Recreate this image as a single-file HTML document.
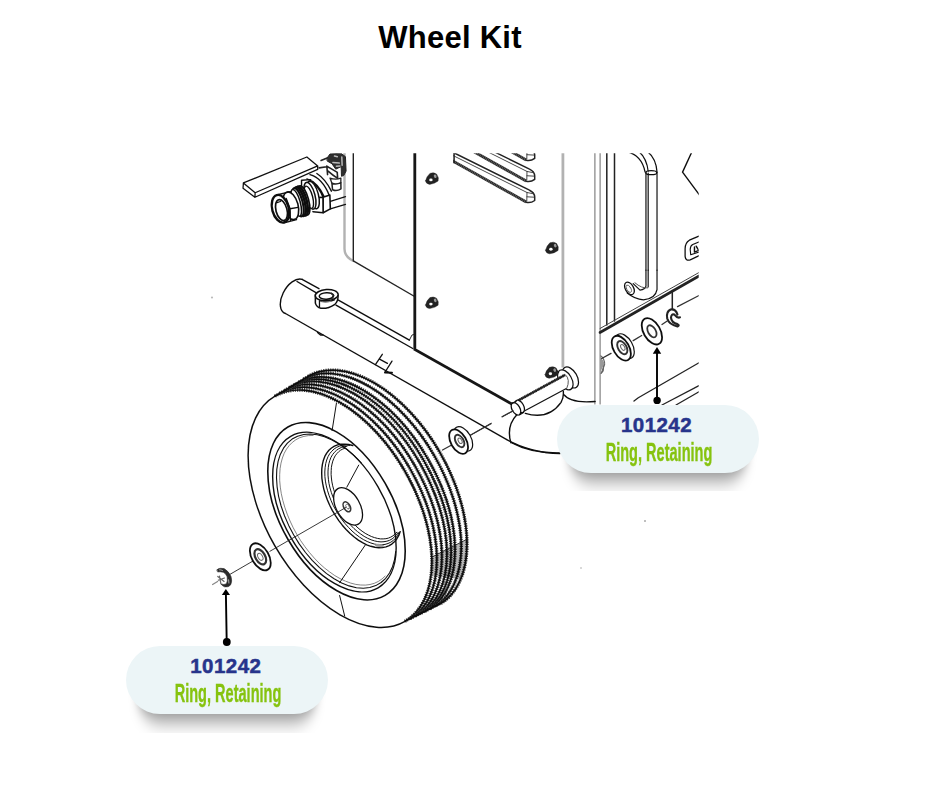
<!DOCTYPE html>
<html lang="en">
<head>
<meta charset="utf-8">
<title>Wheel Kit</title>
<style>
html,body{margin:0;padding:0;background:#fff;}
body{width:940px;height:788px;position:relative;overflow:hidden;font-family:"Liberation Sans",sans-serif;}
h1{position:absolute;left:0;top:17.6px;width:900px;margin:0;text-align:center;font-size:31px;line-height:40px;font-weight:bold;color:#000;letter-spacing:.25px;}
#art{position:absolute;left:0;top:0;width:940px;height:788px;}
.clip{position:absolute;overflow:hidden;width:260px;height:116px;}
.lbl{position:absolute;left:30px;top:30px;width:202px;height:68px;text-align:center;}
.lbl .sh{position:absolute;left:12px;right:12px;top:24px;height:50px;border-radius:25px;background:rgba(0,0,0,.47);filter:url(#shblur);}
.lbl .bg{position:absolute;left:0;top:0;width:202px;height:68px;border-radius:34px;background:#ecf5f7;}
.lbl .num{position:absolute;left:-2.4px;right:0;top:7.8px;font-size:20.5px;line-height:24px;font-weight:bold;color:#27348b;letter-spacing:.45px;-webkit-text-stroke:.5px #27348b;}
.lbl .name{position:absolute;left:-48px;right:-50px;top:32.2px;-webkit-text-stroke:.35px #86c30f;font-size:25px;line-height:30px;color:#86c30f;transform:scaleX(.582);font-weight:bold;white-space:nowrap;}
</style>
</head>
<body>
<h1>Wheel Kit</h1>
<svg id="art" viewBox="0 0 940 788" width="940" height="788" fill="none" stroke="#111" stroke-width="1.3" stroke-linecap="round" stroke-linejoin="round">
<defs>
<clipPath id="dc"><rect x="200" y="153.3" width="498.7" height="500"/></clipPath>
<clipPath id="sc"><rect x="453.2" y="150" width="100" height="70"/></clipPath>
<filter id="soft" x="-5%" y="-5%" width="110%" height="110%"><feGaussianBlur stdDeviation="0.62"/></filter>
<filter id="shblur" x="-30%" y="-100%" width="160%" height="300%"><feGaussianBlur stdDeviation="5 10"/></filter>
</defs>
<g id="drawing" clip-path="url(#dc)"><g filter="url(#soft)">
<path d="M344.5,150 L344.5,249 Q344.8,257 353.3,261" stroke="#b2b2b2" stroke-width="2.4"/><path d="M353.3,150 L353.3,260.8 L414.6,296.5" stroke="#222" stroke-width="1.4"/><path d="M414.8,150 L414.8,349.4 L512.3,404.3" stroke="#151515" stroke-width="2.8" stroke-linejoin="miter"/><path d="M562.9,150 L562.9,367.5" stroke="#b2b2b2" stroke-width="2.8" stroke-linecap="butt"/><path d="M594.9,150 L594.9,404 M600.1,150 L600.1,404" stroke="#777" stroke-width="1.1"/><path d="M606.8,150 L606.8,325 M614.5,150 L614.5,321" stroke="#222" stroke-width="1.5"/><path d="M600,332.5 L699,276" stroke="#222" stroke-width="2.6"/><path d="M600,328.5 L699,272.5" stroke="#444" stroke-width="1"/><path d="M699,362.8 L638.3,397.7 L634,401 M699,385.7 L662,405 M699,391.7 L676,405" stroke="#222" stroke-width="1.3"/><path d="M672.3,290.5 L672.3,309" stroke="#222" stroke-width="1.5"/><path d="M699,295.5 L677.5,306.6" stroke="#333" stroke-width="1.2"/>
<path d="M302.1,279.3 A19.1,11 -60 0 0 285.5,313.5 L507.2,439.8 C520,447 540,453.5 560,453.5" stroke-width="1.4"/><path d="M302.1,279.3 L319,288.7 M337.5,299.6 L409.4,340.1 M297,281.5 L315.5,292.4 M336,305.2 L412.8,348.5" stroke-width="1.4"/><path d="M409.4,340.1 L412,335 L413.5,334.6" stroke-width=".9"/><path d="M317.5,332.5 L320.5,335 L323,335" stroke-width="1.4"/><path d="M382.3,354.3 L375.4,364.6 M380,359.4 L387.4,363.4 M392,361.1 L385.1,372" stroke-width="1.3"/><path d="M385,372.6 L392,372.8" stroke-width="2"/>
<g transform="translate(305,278) scale(0.04824)" ><path d="M215,350 L215,520 Q240,610 330,628 Q480,640 620,545 Q690,480 686,360 Z" fill="#fff" stroke-width="1.5" vector-effect="non-scaling-stroke"/><ellipse cx="450" cy="355" rx="238" ry="116" transform="rotate(-4 450 355)" fill="#fff" stroke-width="1.5" vector-effect="non-scaling-stroke"/><ellipse cx="445" cy="372" rx="150" ry="68" transform="rotate(-3 445 372)" stroke-width="1.5" vector-effect="non-scaling-stroke"/><path d="M300,470 L300,608 M300,470 Q450,520 610,452" stroke-width="1.3" vector-effect="non-scaling-stroke"/><path d="M350,492 Q450,508 540,482" stroke="#888" stroke-width="1.2" vector-effect="non-scaling-stroke"/><path d="M545,320 L590,360 L560,420" stroke="#222" stroke-width="1.6" vector-effect="non-scaling-stroke"/></g>
<circle cx="212" cy="297.5" r="1.1" fill="#bbb" stroke="none"/><circle cx="645" cy="521" r="1" fill="#aaa" stroke="none"/><circle cx="581" cy="568" r="1" fill="#ccc" stroke="none"/>
<g id="wheel"><ellipse cx="340.0" cy="508.7" rx="130.0" ry="75.0" transform="rotate(60 340.0 508.7)" fill="#fff" stroke="none"/><ellipse cx="374.0" cy="490.2" rx="131.5" ry="75.9" transform="rotate(60 374.0 490.2)" fill="#fff" stroke="none"/><polygon fill="#fff" stroke="none" points="275.0,396.1 308.2,376.3 439.8,604.1 405.0,621.3"/><path d="M275.0,396.1 A130.0,75.0 60 0 1 405.0,621.3" stroke="#3a3a3a" stroke-width="3.4" stroke-dasharray="1.3 1" stroke-linecap="butt"/><path d="M275.0,396.1 A130.0,75.0 60 0 1 405.0,621.3" stroke="#111" stroke-width="1.7"/><path d="M279.7,393.3 A130.2,75.1 60 0 1 410.0,618.8" stroke="#3a3a3a" stroke-width="3.4" stroke-dasharray="1.3 1" stroke-linecap="butt"/><path d="M279.7,393.3 A130.2,75.1 60 0 1 410.0,618.8" stroke="#111" stroke-width="1.7"/><path d="M284.5,390.5 A130.4,75.3 60 0 1 414.9,616.4" stroke="#3a3a3a" stroke-width="3.4" stroke-dasharray="1.3 1" stroke-linecap="butt"/><path d="M284.5,390.5 A130.4,75.3 60 0 1 414.9,616.4" stroke="#111" stroke-width="1.7"/><path d="M289.2,387.6 A130.6,75.4 60 0 1 419.9,613.9" stroke="#3a3a3a" stroke-width="3.4" stroke-dasharray="1.3 1" stroke-linecap="butt"/><path d="M289.2,387.6 A130.6,75.4 60 0 1 419.9,613.9" stroke="#111" stroke-width="1.7"/><path d="M294.0,384.8 A130.9,75.5 60 0 1 424.9,611.5" stroke="#3a3a3a" stroke-width="3.4" stroke-dasharray="1.3 1" stroke-linecap="butt"/><path d="M294.0,384.8 A130.9,75.5 60 0 1 424.9,611.5" stroke="#111" stroke-width="1.7"/><path d="M298.8,382.0 A131.1,75.6 60 0 1 429.8,609.0" stroke="#3a3a3a" stroke-width="3.4" stroke-dasharray="1.3 1" stroke-linecap="butt"/><path d="M298.8,382.0 A131.1,75.6 60 0 1 429.8,609.0" stroke="#111" stroke-width="1.7"/><path d="M303.5,379.1 A131.3,75.8 60 0 1 434.8,606.5" stroke="#3a3a3a" stroke-width="3.4" stroke-dasharray="1.3 1" stroke-linecap="butt"/><path d="M303.5,379.1 A131.3,75.8 60 0 1 434.8,606.5" stroke="#111" stroke-width="1.7"/><path d="M308.2,376.3 A131.5,75.9 60 0 1 439.8,604.1" stroke="#3a3a3a" stroke-width="3.4" stroke-dasharray="1.3 1" stroke-linecap="butt"/><path d="M308.2,376.3 A131.5,75.9 60 0 1 439.8,604.1" stroke="#111" stroke-width="1.7"/><path d="M275.0,396.1 A130.0,75.0 60 0 0 405.0,621.3" stroke-width="1.5"/><line x1="275.0" y1="396.1" x2="308.2" y2="376.3"/><line x1="405.0" y1="621.3" x2="439.8" y2="604.1"/><polygon points="432,557 467.5,539 467,560 460,579 432.5,576" fill="#000" fill-opacity=".28" stroke="none"/><line x1="432" y1="557" x2="467.5" y2="539" stroke-width=".8"/><ellipse cx="336.5" cy="511.2" rx="97.2" ry="56.1" transform="rotate(60 336.5 511.2)" stroke-width="1.6"/><ellipse cx="334.4" cy="512.1" rx="87.4" ry="50.4" transform="rotate(60 334.4 512.1)" stroke-width="1.4"/><polyline points="395.7,551.5 394.6,559.5 392.5,566.7 389.5,573.0 385.7,578.3 381.1,582.5 375.8,585.6 369.8,587.5 363.3,588.2 356.4,587.7 349.1,585.9 341.7,583.0 334.1,578.8 326.6,573.6 319.3,567.4 312.2,560.3 305.5,552.5 299.2,543.9 293.6,534.8 288.7,525.4 284.5,515.7 281.1,506.0 278.6,496.3 277.1,486.8 276.5,477.8 276.8,469.3 278.1,461.4 280.3,454.4 283.5,448.2 287.4,443.1 292.1,439.1 297.6,436.2 303.7,434.5 310.2,434.0 317.2,434.7 324.5,436.7 332.0,439.9 339.6,444.2 347.1,449.6 354.4,455.9 361.4,463.2" stroke-width="1.1"/><polyline points="385.1,576.1 381.9,579.1 378.2,581.5 374.3,583.3 370.0,584.5 365.5,585.1 360.7,585.0 355.8,584.4 350.7,583.1 345.4,581.1 340.1,578.6 334.8,575.6 329.6,571.9 324.3,567.8 319.2,563.2 314.3,558.1 309.5,552.6 305.0,546.8 300.7,540.7 296.8,534.3 293.2,527.7 290.0,520.9 287.2,514.1 284.8,507.3 282.8,500.4 281.3,493.7 280.3,487.1 279.7,480.7 279.7,474.5 280.1,468.6 281.0,463.1 282.4,458.0 284.2,453.3 286.5,449.1 289.3,445.4 292.4,442.3 295.9,439.7 299.7,437.7 303.9,436.4 308.4,435.6 313.1,435.5" stroke-width=".8" stroke="#666"/><polyline points="400.2,531.6 398.8,535.4 396.9,538.7 394.7,541.5 392.1,543.8 389.2,545.6 386.0,546.9 382.5,547.6 378.8,547.7 374.9,547.3 370.8,546.3 366.7,544.8 362.5,542.7 358.3,540.1 354.2,537.0 350.1,533.5 346.1,529.5 342.3,525.2 338.8,520.6 335.5,515.7 332.4,510.6 329.7,505.3 327.4,499.9 325.4,494.5 323.8,489.1 322.7,483.7 321.9,478.5 321.7,473.5 321.8,468.8 322.4,464.3 323.4,460.2 324.8,456.4 326.7,453.1 328.9,450.3 331.5,448.0 334.4,446.2 337.6,444.9 341.1,444.2 344.8,444.1 348.7,444.5 352.8,445.5" stroke-width="1.4"/><polyline points="399.2,532.3 397.6,535.4 395.6,538.1 393.4,540.4 390.8,542.2 388.0,543.5 385.0,544.4 381.7,544.8 378.2,544.7 374.6,544.1 370.9,543.0 367.2,541.5 363.3,539.5 359.5,537.1 355.7,534.2 352.0,531.0 348.5,527.4 345.0,523.5 341.7,519.3 338.7,514.9 335.9,510.3 333.3,505.6 331.1,500.7 329.2,495.8 327.6,490.8 326.3,485.9 325.4,481.1 324.9,476.5 324.8,472.0 325.1,467.7 325.7,463.7 326.7,460.0 328.0,456.7 329.7,453.7 331.8,451.2 334.1,449.0 336.7,447.3 339.6,446.1 342.7,445.4 346.1,445.1 349.6,445.4" stroke-width="1"/><polyline points="398.0,532.5 396.3,535.0 394.3,537.1 392.1,538.9 389.6,540.3 386.9,541.2 384.0,541.7 381.0,541.9 377.8,541.6 374.5,540.9 371.1,539.8 367.7,538.3 364.2,536.4 360.8,534.1 357.4,531.5 354.0,528.6 350.8,525.3 347.6,521.8 344.7,518.1 341.9,514.1 339.3,510.0 336.9,505.7 334.8,501.3 332.9,496.9 331.3,492.4 330.0,488.0 329.0,483.6 328.4,479.3 328.0,475.1 328.0,471.1 328.3,467.3 328.9,463.7 329.8,460.4 331.0,457.3 332.6,454.6 334.4,452.3 336.5,450.3 338.8,448.7 341.3,447.5 344.1,446.7 347.0,446.3" stroke-width="1"/><polyline points="396.7,532.2 394.9,534.2 393.0,535.8 390.8,537.1 388.4,538.1 385.9,538.7 383.2,538.9 380.4,538.9 377.5,538.4 374.5,537.6 371.4,536.5 368.3,535.0 365.2,533.3 362.1,531.2 359.0,528.8 356.0,526.1 353.1,523.2 350.3,520.1 347.6,516.7 345.0,513.2 342.6,509.5 340.4,505.7 338.4,501.8 336.7,497.8 335.1,493.8 333.8,489.8 332.7,485.8 331.9,481.9 331.4,478.0 331.1,474.3 331.2,470.7 331.4,467.3 332.0,464.1 332.8,461.1 333.9,458.3 335.2,455.8 336.8,453.7 338.6,451.8 340.6,450.2 342.8,449.0 345.2,448.1" stroke-width="1"/><ellipse cx="379.5" cy="545.5" rx="4.5" ry="1.6" transform="rotate(5 379.5 545.5)" fill="#999" stroke="none"/><ellipse cx="348.1" cy="506.4" rx="20.5" ry="11.8" transform="rotate(60 348.1 506.4)" fill="#fff" stroke-width="1.3"/><ellipse cx="346.9" cy="506.8" rx="5.4" ry="3.1" transform="rotate(60 346.9 506.8)" stroke-width="1.6" stroke="#333"/><ellipse cx="347.6" cy="506.6" rx="2.6" ry="1.5" transform="rotate(60 347.6 506.6)" stroke-width=".8" stroke="#666"/><path d="M346.8,487.2 L358.7,465.1 M365.1,545.3 L339.6,582.8 M336.4,403.4 L332.1,430.6 M339.6,595.5 L344.7,616" stroke-width="1"/></g>
<path d="M229.7,574.5 L253,561 M269.9,551.3 L346,507.4" stroke-width=".9" stroke="#222"/>
<g transform="translate(236,150) scale(0.12766)" ><path d="M58,258 L555,55 L640,125 L150,335 Z M58,258 L55,300 L148,370 L150,335 M148,370 L640,152 L640,125" fill="#fff" stroke-width="1.3" vector-effect="non-scaling-stroke"/></g>
<g transform="translate(264,172) scale(0.07659)" ><path d="M600,35 Q760,80 850,300 M690,20 Q800,90 880,250 M560,90 Q700,130 790,330 M640,150 Q720,200 770,330" stroke-width="1.4" vector-effect="non-scaling-stroke"/><path d="M866,385 L1064,323 M866,482 L1064,423" stroke-width="1.3" vector-effect="non-scaling-stroke"/><path d="M770,330 L860,300 L866,482 L772,532 Z" fill="#fff" stroke-width="1.6" vector-effect="non-scaling-stroke"/><path d="M640,518 L772,532 L770,330 L700,335" fill="#fff" stroke-width="1.6" vector-effect="non-scaling-stroke"/><ellipse cx="640" cy="300" rx="70" ry="185" transform="rotate(-15 640 300)" fill="#fff" stroke="#111" stroke-width="1.5" vector-effect="non-scaling-stroke"/><ellipse cx="600" cy="310" rx="66" ry="180" transform="rotate(-15 600 310)" fill="#fff" stroke="#111" stroke-width="1.5" vector-effect="non-scaling-stroke"/><path d="M490,108 L490,175 M490,108 L610,100" stroke-width="1.4" vector-effect="non-scaling-stroke"/><ellipse cx="585" cy="330" rx="50" ry="150" transform="rotate(-15 585 330)" fill="#fff" stroke="#111" stroke-width="1.4" vector-effect="non-scaling-stroke"/><ellipse cx="520" cy="370" rx="62" ry="195" transform="rotate(-15 520 370)" fill="#fff" stroke="#111" stroke-width="1.8" vector-effect="non-scaling-stroke"/><ellipse cx="495" cy="378" rx="62" ry="195" transform="rotate(-15 495 378)" fill="#fff" stroke="#111" stroke-width="2.6" vector-effect="non-scaling-stroke"/><ellipse cx="470" cy="386" rx="60" ry="192" transform="rotate(-15 470 386)" fill="#fff" stroke="#111" stroke-width="2.6" vector-effect="non-scaling-stroke"/><ellipse cx="445" cy="394" rx="58" ry="190" transform="rotate(-15 445 394)" fill="#fff" stroke="#111" stroke-width="2.2" vector-effect="non-scaling-stroke"/><ellipse cx="420" cy="402" rx="54" ry="180" transform="rotate(-15 420 402)" fill="#fff" stroke="#111" stroke-width="1.5" vector-effect="non-scaling-stroke"/><path d="M170,300 L340,258 L420,620 L260,662 Z" fill="#fff" stroke="none"/><ellipse cx="350" cy="440" rx="95" ry="185" transform="rotate(-15 350 440)" fill="#fff" stroke="#111" stroke-width="1.6" vector-effect="non-scaling-stroke"/><path d="M165,300 L345,256 M262,664 L425,622 M340,480 L445,462 M340,480 L345,640 M290,345 L340,480" stroke-width="1.4" vector-effect="non-scaling-stroke"/><ellipse cx="215" cy="480" rx="108" ry="185" transform="rotate(-15 215 480)" fill="#fff" stroke="#111" stroke-width="2.4" vector-effect="non-scaling-stroke"/><ellipse cx="228" cy="497" rx="72" ry="140" transform="rotate(-15 228 497)" fill="#fff" stroke="#111" stroke-width="1.7" vector-effect="non-scaling-stroke"/><path d="M170,400 L215,385" stroke-width="1.2" vector-effect="non-scaling-stroke"/></g>
<g transform="translate(300,150) scale(0.06383)" ><path d="M425,125 L470,62 L640,50 L712,105 L722,330 L685,400 L650,412 L645,260 L560,300 L500,215 L430,175 Z" fill="#2e2e2e" stroke="#222" stroke-width="1" vector-effect="non-scaling-stroke"/><path d="M540,95 L585,105 M515,195 L615,205 M570,255 L625,250 M655,110 L660,240" stroke="#bbb" stroke-width="1.5" vector-effect="non-scaling-stroke"/><path d="M420,250 L432,385 M583,350 L590,440 M420,255 L500,300 L585,350 M330,165 L425,125 M300,280 L420,262 M440,330 Q520,400 585,440" stroke="#222" stroke-width="1.6" vector-effect="non-scaling-stroke"/><path d="M500,520 Q565,548 640,512 L642,608 Q575,652 510,622 Z" fill="#fff" stroke="#222" stroke-width="1.5" vector-effect="non-scaling-stroke"/><path d="M470,440 Q560,470 640,440 L640,512 M470,440 L500,520" stroke="#222" stroke-width="1.3" vector-effect="non-scaling-stroke"/></g>
<g transform="translate(470,330) scale(0.17021)" ><path d="M275,498 Q212,565 240,662 M240,660 Q360,725 525,722 M325,490 Q460,530 535,425 Q552,395 548,360 M552,380 Q590,432 735,420" stroke-width="1.4" vector-effect="non-scaling-stroke"/><ellipse cx="590" cy="279" rx="67.5" ry="39" transform="rotate(60 590 279)" fill="#fff" stroke-width="1.2" vector-effect="non-scaling-stroke"/><ellipse cx="560" cy="293" rx="64.6" ry="37.3" transform="rotate(60 560 293)" fill="#fff" stroke-width="1.2" vector-effect="non-scaling-stroke"/><path d="M285,412 L560,262 L572,343 L322,474 Z" fill="#fff" stroke="none"/><path d="M283,414 L558,264" stroke="#222" stroke-width="2.8" stroke-dasharray="1.2 .6" stroke-linecap="butt" vector-effect="non-scaling-stroke"/><path d="M283,414 L558,264" stroke="#222" stroke-width="1.7" stroke-linecap="butt" vector-effect="non-scaling-stroke"/><path d="M322,474 L566,344" stroke-width="1.2" vector-effect="non-scaling-stroke"/><path d="M560,262 Q592,290 568,344" stroke-width="1" stroke="#555" vector-effect="non-scaling-stroke"/><ellipse cx="292" cy="449" rx="40" ry="23" transform="rotate(60 292 449)" fill="#fff" stroke-width="1.3" vector-effect="non-scaling-stroke"/><ellipse cx="270" cy="463" rx="40" ry="23" transform="rotate(60 270 463)" fill="#fff" stroke-width="1.3" vector-effect="non-scaling-stroke"/><path d="M250,430 L272,417 M292,498 L314,485" stroke-width="1.2" vector-effect="non-scaling-stroke"/><path d="M495,225 L520,250" stroke-width="1.3" vector-effect="non-scaling-stroke"/><path d="M190,510 L250,478 M0,620 L125,548" stroke="#333" stroke-width="1" vector-effect="non-scaling-stroke"/><path d="M770,175 Q790,190 782,240 L770,255" stroke="#555" stroke-width="1.2" vector-effect="non-scaling-stroke"/></g>
<g clip-path="url(#sc)"><g transform="translate(0,-42.1)"><path d="M430,141.1 L529.5,190.2 Q534.5,192.5 534.7,197 L534.7,200.5 Q531,203 526.2,202.3 L430,148.2 Z" fill="#fff" stroke="none"/><path d="M430,148.2 L526.2,202" stroke="#222" stroke-width="2.9" stroke-linecap="butt"/><path d="M430,148.2 L526.2,202" stroke="#fff" stroke-opacity=".35" stroke-width="2.9" stroke-dasharray=".7 1.1" stroke-linecap="butt"/><path d="M430,141.1 L529.5,190.2 Q534.5,192.5 534.7,197 L534.7,200.5 Q531,203.2 526.2,202.3" stroke="#222" stroke-width="1.5"/><path d="M430,144 L527,192.5 L533.5,193.8 M527,192.5 L526.8,201 M527,196.8 L534,197.2" stroke="#333" stroke-width=".9"/></g><g transform="translate(0,-21.05)"><path d="M430,141.1 L529.5,190.2 Q534.5,192.5 534.7,197 L534.7,200.5 Q531,203 526.2,202.3 L430,148.2 Z" fill="#fff" stroke="none"/><path d="M430,148.2 L526.2,202" stroke="#222" stroke-width="2.9" stroke-linecap="butt"/><path d="M430,148.2 L526.2,202" stroke="#fff" stroke-opacity=".35" stroke-width="2.9" stroke-dasharray=".7 1.1" stroke-linecap="butt"/><path d="M430,141.1 L529.5,190.2 Q534.5,192.5 534.7,197 L534.7,200.5 Q531,203.2 526.2,202.3" stroke="#222" stroke-width="1.5"/><path d="M430,144 L527,192.5 L533.5,193.8 M527,192.5 L526.8,201 M527,196.8 L534,197.2" stroke="#333" stroke-width=".9"/></g><g transform="translate(0,0)"><path d="M430,141.1 L529.5,190.2 Q534.5,192.5 534.7,197 L534.7,200.5 Q531,203 526.2,202.3 L430,148.2 Z" fill="#fff" stroke="none"/><path d="M430,148.2 L526.2,202" stroke="#222" stroke-width="2.9" stroke-linecap="butt"/><path d="M430,148.2 L526.2,202" stroke="#fff" stroke-opacity=".35" stroke-width="2.9" stroke-dasharray=".7 1.1" stroke-linecap="butt"/><path d="M430,141.1 L529.5,190.2 Q534.5,192.5 534.7,197 L534.7,200.5 Q531,203.2 526.2,202.3" stroke="#222" stroke-width="1.5"/><path d="M430,144 L527,192.5 L533.5,193.8 M527,192.5 L526.8,201 M527,196.8 L534,197.2" stroke="#333" stroke-width=".9"/></g><path d="M454,153 L454,162.6" stroke="#222" stroke-width="1.7"/></g>
<g transform="translate(432.1,178.4)"><path d="M-6.6,2.4 Q-5.6,-2 -2.2,-5 Q1.5,-6.6 4.6,-4.2 Q7,-1 6,2.6 Q3,5.2 -2.4,6 Q-6.2,5.6 -6.6,2.4 Z" fill="#242424" stroke="#242424" stroke-width=".4"/><ellipse cx="-1.2" cy="1.5" rx="1.7" ry="1.45" fill="#fafafa" stroke="none"/><ellipse cx="3.1" cy="-2.2" rx="1.3" ry="1.8" transform="rotate(-20 3.1 -2.2)" fill="#9a9a9a" stroke="none"/></g>
<g transform="translate(552.1,247.8)"><path d="M-6.6,2.4 Q-5.6,-2 -2.2,-5 Q1.5,-6.6 4.6,-4.2 Q7,-1 6,2.6 Q3,5.2 -2.4,6 Q-6.2,5.6 -6.6,2.4 Z" fill="#242424" stroke="#242424" stroke-width=".4"/><ellipse cx="-1.2" cy="1.5" rx="1.7" ry="1.45" fill="#fafafa" stroke="none"/><ellipse cx="3.1" cy="-2.2" rx="1.3" ry="1.8" transform="rotate(-20 3.1 -2.2)" fill="#9a9a9a" stroke="none"/></g>
<g transform="translate(432.1,302.6)"><path d="M-6.6,2.4 Q-5.6,-2 -2.2,-5 Q1.5,-6.6 4.6,-4.2 Q7,-1 6,2.6 Q3,5.2 -2.4,6 Q-6.2,5.6 -6.6,2.4 Z" fill="#242424" stroke="#242424" stroke-width=".4"/><ellipse cx="-1.2" cy="1.5" rx="1.7" ry="1.45" fill="#fafafa" stroke="none"/><ellipse cx="3.1" cy="-2.2" rx="1.3" ry="1.8" transform="rotate(-20 3.1 -2.2)" fill="#9a9a9a" stroke="none"/></g>
<g transform="translate(551.6,372.3)"><path d="M-6.6,2.4 Q-5.6,-2 -2.2,-5 Q1.5,-6.6 4.6,-4.2 Q7,-1 6,2.6 Q3,5.2 -2.4,6 Q-6.2,5.6 -6.6,2.4 Z" fill="#242424" stroke="#242424" stroke-width=".4"/><ellipse cx="-1.2" cy="1.5" rx="1.7" ry="1.45" fill="#fafafa" stroke="none"/><ellipse cx="3.1" cy="-2.2" rx="1.3" ry="1.8" transform="rotate(-20 3.1 -2.2)" fill="#9a9a9a" stroke="none"/></g>
<g transform="translate(560,150) scale(0.17021)" ><path d="M390,10 Q480,30 500,130 M465,10 Q510,50 518,125 M515,10 Q565,50 570,130" stroke-width="1.2" vector-effect="non-scaling-stroke"/><ellipse cx="536" cy="133" rx="32" ry="12" stroke-width="1.2" vector-effect="non-scaling-stroke"/><path d="M505,130 L505,706 M518,135 L518,706 M570,130 L570,706" stroke-width="1.2" vector-effect="non-scaling-stroke"/><path d="M775,10 L720,130 L820,265" stroke-width="1.4" vector-effect="non-scaling-stroke"/><path d="M830,500 L760,530 Q735,545 735,580 L735,625 Q738,655 765,645 L830,615" stroke-width="1.3" vector-effect="non-scaling-stroke"/><path d="M830,535 L780,555 Q765,562 765,585 L768,615 L830,595" stroke-width="1.1" vector-effect="non-scaling-stroke"/><path d="M790,570 L790,600 L815,590 M800,565 L812,585" stroke-width="1.4" vector-effect="non-scaling-stroke"/></g>
<g transform="translate(560,270) scale(0.17021)" ><path d="M505,0 L505,95 Q500,115 470,118 L430,80 M518,0 L518,100 M570,0 L570,115 Q560,170 490,175 Q440,172 395,135" stroke-width="1.2" vector-effect="non-scaling-stroke"/><ellipse cx="408" cy="108" rx="24" ry="40" transform="rotate(-30 408 108)" fill="#fff" stroke-width="1.3" vector-effect="non-scaling-stroke"/><ellipse cx="404" cy="110" rx="12" ry="24" transform="rotate(-30 404 110)" stroke="#666" stroke-width="1" vector-effect="non-scaling-stroke"/><path d="M440,75 Q480,110 515,105" stroke="#555" stroke-width="1" vector-effect="non-scaling-stroke"/><path d="M690,262 Q680,228 650,232 Q622,245 630,285 Q640,320 690,332 Q705,325 690,318 Q655,310 652,280 Q655,255 672,262 Q690,285 705,278" stroke-width="2.1" stroke="#222" vector-effect="non-scaling-stroke"/><path d="M240,505 Q262,520 262,555 L245,600" stroke="#666" stroke-width="1.2" vector-effect="non-scaling-stroke"/><path d="M236,505 L236,600 L262,550 Z" fill="#999" stroke="none"/></g>
<path d="M442.5,450 L453,444.2 M469.8,435.5 L491,423.6 M502,416.8 L513,410.8 M601.7,358.5 L611,353.4 M633.2,340.6 L641.7,335.5 M662,324.5 L667.2,321" stroke="#333" stroke-width="1.3"/>
<ellipse cx="260.3" cy="556.8" rx="14.8" ry="8.5" transform="rotate(60 260.3 556.8)" fill="#fff" stroke-width="1.8"/><ellipse cx="260.3" cy="556.8" rx="8.3" ry="4.8" transform="rotate(60 260.3 556.8)" stroke="#333" stroke-width="2.2"/><ellipse cx="260.3" cy="556.8" rx="3.8" ry="2.2" transform="rotate(60 260.3 556.8)" stroke="#666" stroke-width="1"/>
<ellipse cx="463.2" cy="438.9" rx="13.4" ry="7.7" transform="rotate(60 463.2 438.9)" fill="#fff" stroke-width="1.2"/><ellipse cx="458.6" cy="441.6" rx="13.4" ry="7.7" transform="rotate(60 458.6 441.6)" fill="#fff" stroke-width="1.8"/><ellipse cx="459.6" cy="441.0" rx="6.8" ry="3.9" transform="rotate(60 459.6 441.0)" stroke="#333" stroke-width="1.9"/><ellipse cx="460.1" cy="440.8" rx="3.0" ry="1.7" transform="rotate(60 460.1 440.8)" stroke="#666" stroke-width="1"/>
<ellipse cx="624.7" cy="346.2" rx="13.6" ry="7.8" transform="rotate(60 624.7 346.2)" fill="#fff" stroke-width="1.2"/><ellipse cx="621.3" cy="348.2" rx="13.6" ry="7.8" transform="rotate(60 621.3 348.2)" fill="#fff" stroke-width="1.8"/><ellipse cx="622.3" cy="347.6" rx="7.2" ry="4.2" transform="rotate(60 622.3 347.6)" stroke="#333" stroke-width="1.9"/><ellipse cx="622.8" cy="347.4" rx="3.2" ry="1.8" transform="rotate(60 622.8 347.4)" stroke="#666" stroke-width="1"/>
<ellipse cx="651.9" cy="331.3" rx="14.4" ry="8.3" transform="rotate(60 651.9 331.3)" fill="#fff" stroke-width="1.8"/><ellipse cx="651.9" cy="331.3" rx="6.6" ry="3.8" transform="rotate(60 651.9 331.3)" stroke="#333" stroke-width="1.8"/>
<g transform="translate(208,560) scale(0.03831)" ><path d="M235,250 Q300,190 420,225 Q540,290 600,430 Q640,560 590,650 Q540,720 430,700 Q380,680 330,620 Q420,660 480,620 Q520,560 500,440 Q470,350 400,320 Q320,300 260,310 Z" fill="#2c2c2c" stroke="#2c2c2c" stroke-width=".6" vector-effect="non-scaling-stroke"/><path d="M300,255 Q340,250 380,275" stroke="#999" stroke-width="1" vector-effect="non-scaling-stroke"/><path d="M535,520 L545,600" stroke="#999" stroke-width="1.2" vector-effect="non-scaling-stroke"/><path d="M255,430 L420,560 M300,420 L335,610 M270,525 L430,470" stroke="#666" stroke-width="1.2" vector-effect="non-scaling-stroke"/><path d="M120,640 L250,560" stroke="#888" stroke-width="1.3" vector-effect="non-scaling-stroke"/></g>
</g></g>
<!-- callout arrows -->
<g stroke="#000" stroke-width="1.9" fill="#000">
<line x1="657" y1="352" x2="657" y2="400.3"/>
<circle cx="657.1" cy="400.4" r="3.7" stroke="none"/>
<path d="M657 346.9 L652.8 353.8 L661.2 353.8 Z" stroke="none"/>
<line x1="225.9" y1="594" x2="226.7" y2="642"/>
<circle cx="226.8" cy="642" r="3.9" stroke="none"/>
<path d="M225.9 589 L221.8 595 L230 595 Z" stroke="none"/>
</g>
</svg>
<div class="clip" style="left:526.7px;top:374.9px;"><div class="lbl"><div class="sh"></div><div class="bg"></div><div class="num">101242</div><div class="name">Ring, Retaining</div></div></div>
<div class="clip" style="left:96px;top:616.3px;height:116.7px;"><div class="lbl"><div class="sh"></div><div class="bg"></div><div class="num">101242</div><div class="name">Ring, Retaining</div></div></div>
</body>
</html>
